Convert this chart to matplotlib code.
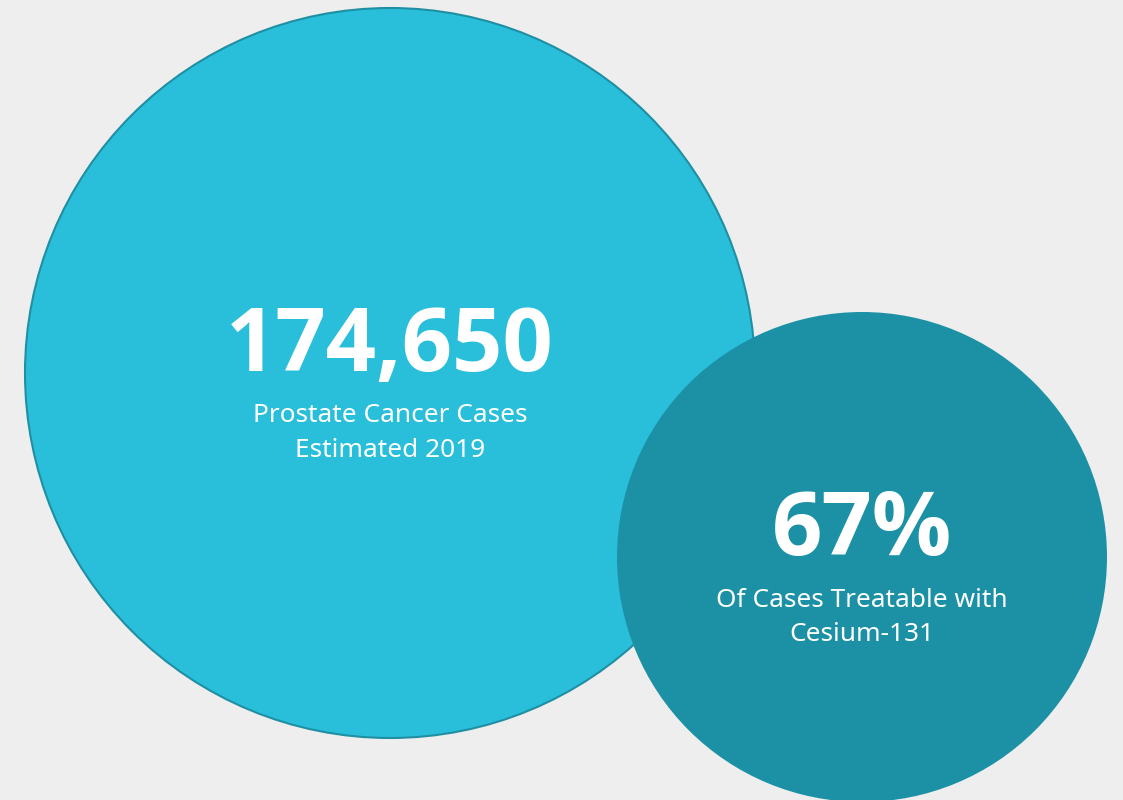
import matplotlib.pyplot as plt
from matplotlib.patches import Circle

# Chart data
values = ["174,650", "67%"]
captions = [
    ["Prostate Cancer Cases", "Estimated 2019"],
    ["Of Cases Treatable with", "Cesium-131"],
]

# Layout (pixel coordinates, y going down)
centers = [(390, 373), (862, 557)]
radii = [365, 245]
fills = ["#29bfdb", "#1c91a6"]
edges = ["#1f8fa3", "none"]
value_baselines = [371, 555]
caption_baselines = [[422, 457], [607, 641]]

BG = "#eeeeee"
NUM_FONT = ["Open Sans", "Lato", "DejaVu Sans"]
TXT_FONT = ["Noto Sans", "DejaVu Sans"]


def main():
    fig = plt.figure(figsize=(11.23, 8), dpi=100, facecolor=BG)
    ax = fig.add_axes([0, 0, 1, 1])
    ax.set_facecolor(BG)
    ax.set_xlim(0, 1123)
    ax.set_ylim(800, 0)
    ax.set_aspect("equal")
    ax.axis("off")

    for i in range(len(values)):
        cx, cy = centers[i]
        ax.add_patch(Circle((cx, cy), radii[i], facecolor=fills[i],
                            edgecolor=edges[i], linewidth=1.5, zorder=2 + i))
        ax.text(cx, value_baselines[i], values[i], ha="center", va="baseline",
                color="white", fontsize=63.5, fontweight="bold", family=NUM_FONT,
                zorder=5)
        for line, yb in zip(captions[i], caption_baselines[i]):
            ax.text(cx, yb, line, ha="center", va="baseline", color="white",
                    fontsize=18.9, family=TXT_FONT, zorder=5)

    fig.savefig("out.png", dpi=100, facecolor=BG)


if __name__ == "__main__":
    main()
